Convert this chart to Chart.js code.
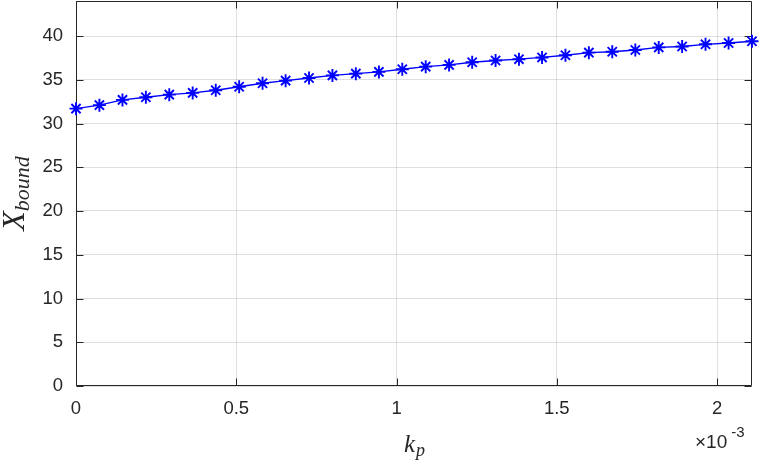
<!DOCTYPE html>
<html>
<head>
<meta charset="utf-8">
<script src="https://cdn.jsdelivr.net/npm/chart.js@4"></script>
<style>
  html, body { margin: 0; padding: 0; background: #fff; }
  #wrap { width: 761px; height: 463px; }
</style>
</head>
<body>
<div id="wrap"><canvas id="chart"></canvas></div>
<script>
// ---- data (kp shown in units of 1e-3, as on the axis) ----
const kpMilli = [
    0, 0.073, 0.145, 0.218, 0.291, 0.364, 0.436, 0.509, 0.582, 0.654,
    0.727, 0.800, 0.873, 0.945, 1.018, 1.091, 1.164, 1.236, 1.309, 1.382,
    1.454, 1.527, 1.600, 1.673, 1.745, 1.818, 1.891, 1.964, 2.036, 2.109
];
const xBound = [
    31.7, 32.1, 32.7, 33.0, 33.3, 33.5, 33.8, 34.2, 34.6, 34.9,
    35.2, 35.5, 35.7, 35.9, 36.2, 36.5, 36.7, 37.0, 37.2, 37.35,
    37.55, 37.8, 38.1, 38.2, 38.4, 38.7, 38.8, 39.05, 39.2, 39.4
];
const xTicks = [0, 0.5, 1, 1.5, 2];
const yTicks = [0, 5, 10, 15, 20, 25, 30, 35, 40];
const xRange = [0, 2.109];
const yRange = [0, 44];

const AXIS = '#262626';
const GRID = 'rgba(38,38,38,0.15)';
const SANS = "'Liberation Sans', Arial, sans-serif";
const SERIF = "'Liberation Serif', 'DejaVu Serif', serif";
const TICK_FONT = { family: SANS, size: 18.5 };

// box, inward ticks (drawn under the data like MATLAB)
const axesBox = {
    id: 'axesBox',
    beforeDatasetsDraw(chart) {
        const { ctx, chartArea: a, scales: { x, y } } = chart;
        const L = a.left + 0.5, R = a.right - 0.5, T = a.top + 0.5, B = a.bottom - 0.5;
        ctx.save();
        ctx.strokeStyle = AXIS;
        ctx.lineWidth = 1;
        ctx.beginPath();
        xTicks.forEach(v => {
            const px = Math.round(x.getPixelForValue(v)) + 0.5;
            ctx.moveTo(px, B); ctx.lineTo(px, B - 7);
            ctx.moveTo(px, T); ctx.lineTo(px, T + 7);
        });
        yTicks.forEach(v => {
            const py = Math.round(y.getPixelForValue(v)) + 0.5;
            ctx.moveTo(L, py); ctx.lineTo(L + 7, py);
            ctx.moveTo(R, py); ctx.lineTo(R - 7, py);
        });
        ctx.rect(L, T, R - L, B - T);
        ctx.stroke();
        ctx.restore();
    },
    afterDraw(chart) {
        const { ctx, chartArea: a } = chart;
        ctx.save();
        ctx.fillStyle = AXIS;
        ctx.textBaseline = 'alphabetic';

        // x title: k_p
        ctx.font = 'italic 25px ' + SERIF;
        const wk = ctx.measureText('k').width;
        ctx.font = 'italic 18px ' + SERIF;
        const wp = ctx.measureText('p').width;
        const cx = (a.left + a.right) / 2 - (wk + wp) / 2;
        ctx.font = 'italic 25px ' + SERIF;
        ctx.fillText('k', cx, 452);
        ctx.font = 'italic 18px ' + SERIF;
        ctx.fillText('p', cx + wk + 1, 456);

        // exponent label
        ctx.font = '19px ' + SANS;
        ctx.fillText('\u00d710', 695, 448);
        const w10 = ctx.measureText('\u00d710').width;
        ctx.font = '15px ' + SANS;
        ctx.fillText('-3', 695 + w10 + 4, 437);

        // y title: X_bound
        ctx.translate(24, (a.top + a.bottom) / 2);
        ctx.rotate(-Math.PI / 2);
        ctx.font = 'italic 32px ' + SERIF;
        const wX = ctx.measureText('X').width;
        ctx.font = 'italic 22px ' + SERIF;
        const wb = ctx.measureText('bound').width;
        const sx = -(wX + wb) / 2;
        ctx.font = 'italic 32px ' + SERIF;
        ctx.fillText('X', sx, 0);
        ctx.font = 'italic 22px ' + SERIF;
        ctx.fillText('bound', sx + wX, 5);
        ctx.restore();
    }
};

new Chart(document.getElementById('chart'), {
    type: 'line',
    data: {
        datasets: [{
            data: kpMilli.map((k, i) => ({ x: k, y: xBound[i] })),
            borderColor: '#0000ff',
            borderWidth: 1.3,
            pointStyle: 'star',
            pointRadius: 6.5,
            pointBorderWidth: 1.9,
            pointBorderColor: '#0000ff',
            pointBackgroundColor: '#0000ff',
            tension: 0,
            clip: false
        }]
    },
    options: {
        responsive: true,
        maintainAspectRatio: false,
        animation: false,
        layout: { autoPadding: false, padding: { left: 0, top: 1, right: 9, bottom: 0 } },
        plugins: { legend: { display: false }, tooltip: { enabled: false } },
        scales: {
            x: {
                type: 'linear',
                min: xRange[0], max: xRange[1],
                afterBuildTicks: s => { s.ticks = xTicks.map(v => ({ value: v })); },
                afterFit: s => { s.height = 77; s.paddingLeft = 0; s.paddingRight = 0; },
                grid: { color: GRID, drawTicks: false },
                border: { display: false },
                ticks: { color: AXIS, font: TICK_FONT, padding: 12, maxRotation: 0,
                         callback: v => String(v) }
            },
            y: {
                min: yRange[0], max: yRange[1],
                afterBuildTicks: s => { s.ticks = yTicks.map(v => ({ value: v })); },
                afterFit: s => { s.width = 76; s.paddingTop = 0; s.paddingBottom = 0; },
                grid: { color: GRID, drawTicks: false },
                border: { display: false },
                ticks: { color: AXIS, font: TICK_FONT, padding: 13,
                         callback: v => String(v) }
            }
        }
    },
    plugins: [axesBox]
});
</script>
</body>
</html>
